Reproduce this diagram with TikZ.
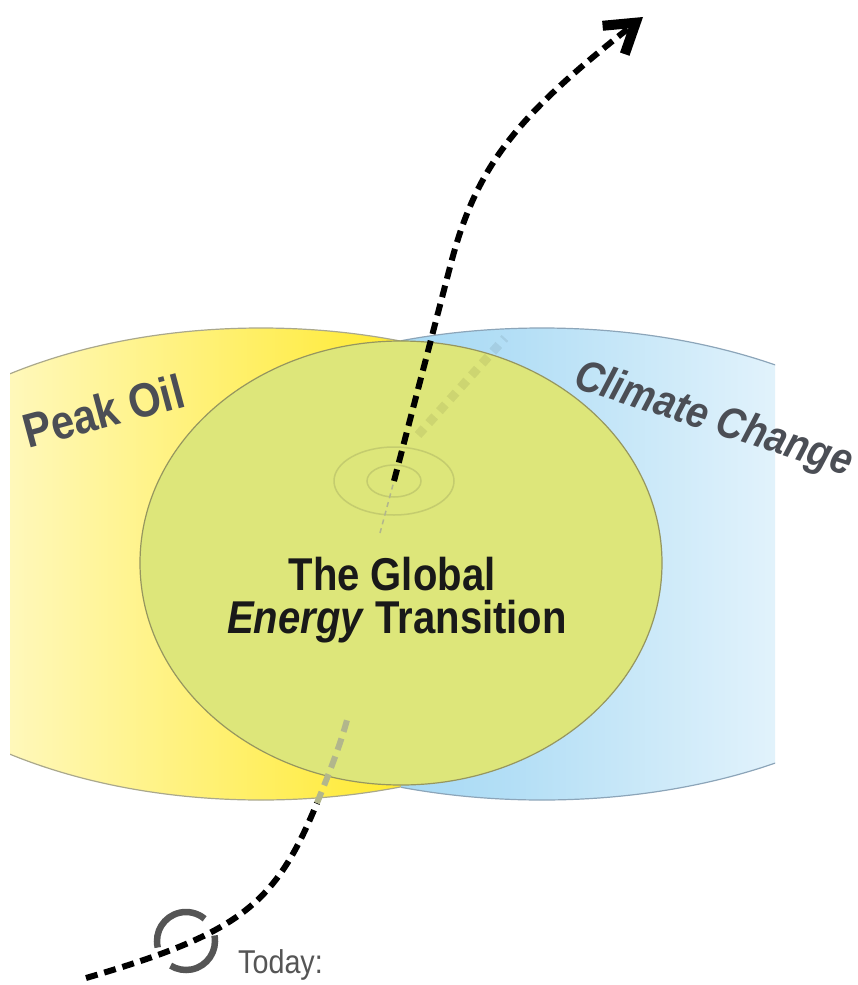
\documentclass[tikz,border=0pt]{standalone}
\usepackage{fontspec}
\usetikzlibrary{arrows.meta}
\newfontfamily\condfont[FakeStretch=0.87]{Liberation Sans}

\definecolor{oil}{RGB}{255,232,30}
\definecolor{clim}{RGB}{150,210,242}
\definecolor{leaf}{RGB}{221,230,122}
\definecolor{leafedge}{RGB}{150,150,95}
\definecolor{leafring}{RGB}{196,204,110}
\definecolor{oiledge}{RGB}{170,168,140}
\definecolor{climedge}{RGB}{140,165,185}
\definecolor{ink}{RGB}{75,78,85}
\definecolor{titleink}{RGB}{25,25,25}
\definecolor{stampgrey}{RGB}{85,85,85}
\definecolor{ghost}{RGB}{178,182,140}

\pgfdeclarehorizontalshading{oilfade}{100bp}{color(0bp)=(white); color(82bp)=(oil); color(100bp)=(oil)}
\pgfdeclarehorizontalshading{climfade}{100bp}{color(0bp)=(clim); color(40bp)=(clim!72!white); color(80bp)=(clim!22!white); color(95bp)=(white); color(100bp)=(white)}

\begin{document}
\begin{tikzpicture}[x=1pt, y=-1pt]

\tikzstyle{trend}=[line width=6pt, dash pattern=on 12pt off 7pt]
\tikzstyle{faded}=[trend, draw=ghost]
\tikzstyle{thread}=[line width=1.5pt, dash pattern=on 5pt off 4pt, draw=ghost]
\tikzstyle{rim}=[line width=1.2pt]
\tikzstyle{stamp}=[line width=6.5pt, draw=stampgrey]
\tikzstyle{headline}=[inner sep=0pt, anchor=base, text=titleink, font=\condfont\bfseries\fontsize{46}{46}\selectfont]
\tikzstyle{topic}=[inner sep=0pt, anchor=base west, text=ink, font=\condfont\bfseries\fontsize{48}{48}\selectfont]

\useasboundingbox (0,0) rectangle (857,985);

\coordinate (start) at (86,978);
\coordinate (edge) at (317,803);
\coordinate (sink) at (347,720);
\coordinate (thread) at (380,533);
\coordinate (core) at (394,481);
\coordinate (lift) at (450,267);
\coordinate (tip) at (643,17);
\coordinate (ring) at (186,941);
\coordinate (shadowA) at (418,435);
\coordinate (shadowB) at (505,338);

% peak oil side
\begin{scope}
\clip (10,0) rectangle (401,985);
\begin{scope}
\clip (261,564) ellipse [x radius=424, y radius=236];
\shade [shading=oilfade] (10,300) rectangle (401,830);
\end{scope}
\draw [rim, draw=oiledge] (261,564) ellipse [x radius=424, y radius=236];
\end{scope}

% climate side
\begin{scope}
\clip (401,0) rectangle (775,985);
\begin{scope}
\clip (542,564) ellipse [x radius=434, y radius=236];
\shade [shading=climfade] (401,300) rectangle (775,830);
\end{scope}
\draw [rim, draw=climedge] (542,564) ellipse [x radius=434, y radius=236];
\end{scope}

% overlap
\draw [rim, draw=leafedge, fill=leaf] (401,563) ellipse [x radius=261, y radius=222];
\draw [draw=leafring, line width=1.5pt] (core) ellipse [x radius=27, y radius=16];
\draw [draw=leafring, line width=1.5pt] (core) ellipse [x radius=60, y radius=34];

\draw [line width=9pt, dash pattern=on 9pt off 7pt, draw=black, draw opacity=0.07] (shadowA) -- (shadowB);

\draw [stamp] (ring) ++(-193:29) arc [start angle=-193, end angle=-50, radius=29];
\draw [stamp] (ring) ++(-371:29) arc [start angle=-371, end angle=-238, radius=29];

\draw [trend] (start) .. controls (240,933) and (275,905) .. (edge);
\draw [faded] (edge) .. controls (328,776) and (340,746) .. (sink);
\draw [thread] (thread) -- (core);
\draw [trend, -{Straight Barb[length=28pt, width=36pt, line width=10pt]}] (core) -- (lift) .. controls (475.5,168) and (514,118) .. (tip);

\node (global) [headline] at (392,590) {The Global};
\node (transition) [headline] at (397,633) {\textit{Energy} Transition};
\node (oil) [topic, rotate=15] at (28,449) {Peak Oil};
\node (climate) [topic, rotate=-18, font=\condfont\bfseries\itshape\fontsize{44}{44}\selectfont] at (572,387) {Climate Change};
\node (today) [anchor=base west, inner sep=0pt, text=stampgrey, font=\condfont\fontsize{33}{33}\selectfont] at (238,973) {Today:};

\end{tikzpicture}
\end{document}
